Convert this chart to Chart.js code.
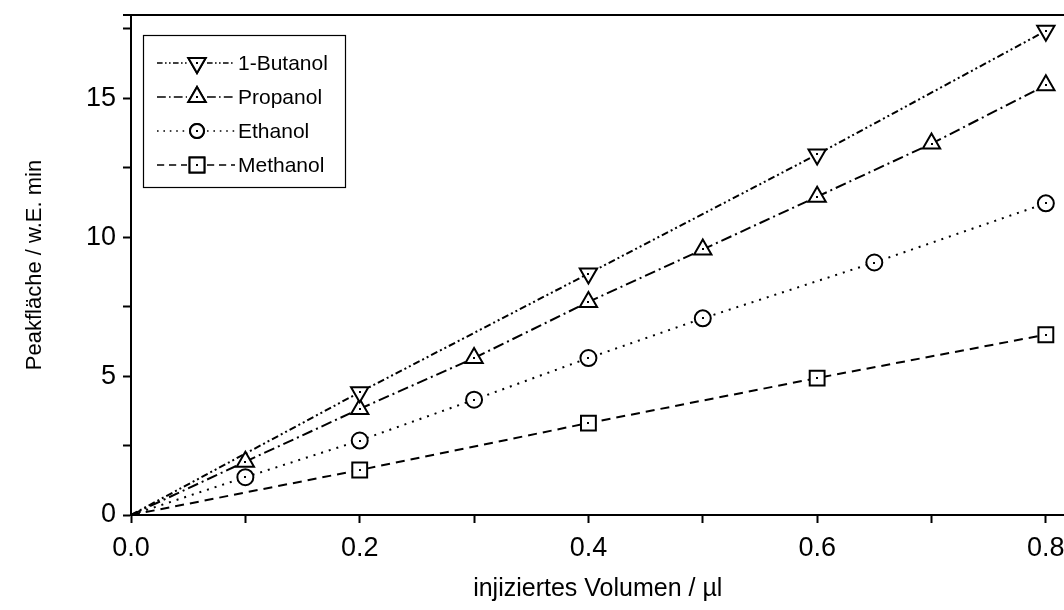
<!DOCTYPE html>
<html>
<head>
<meta charset="utf-8">
<script src="https://cdn.jsdelivr.net/npm/chart.js@4/dist/chart.umd.min.js"></script>
<style>
  html, body { margin: 0; padding: 0; background: #fff; overflow: hidden; }
  /* the plot runs off the right edge, as in the original figure */
  #wrap { width: 1077px; height: 610px; }
</style>
</head>
<body>
<div id="wrap"><canvas id="peakChart" width="1077" height="610"></canvas></div>
<script>
// values
const seriesNames = ['1-Butanol', 'Propanol', 'Ethanol', 'Methanol'];

const xButanol = [0, 0.2, 0.4, 0.6, 0.8];
const yButanol = [0, 4.42, 8.69, 12.98, 17.43];

const xPropanol = [0, 0.1, 0.2, 0.3, 0.4, 0.5, 0.6, 0.7, 0.8];
const yPropanol = [0, 1.92, 3.82, 5.65, 7.67, 9.56, 11.46, 13.37, 15.47];

const xEthanol = [0, 0.1, 0.2, 0.3, 0.4, 0.5, 0.65, 0.8];
const yEthanol = [0, 1.36, 2.68, 4.15, 5.65, 7.08, 9.09, 11.22];

const xMethanol = [0, 0.2, 0.4, 0.6, 0.8];
const yMethanol = [0, 1.62, 3.31, 4.93, 6.49];

const xTickLabels = ['0.0', '0.2', '0.4', '0.6', '0.8'];
const yTickLabels = ['0', '5', '10', '15'];

const FONT = '"Liberation Sans", Arial, sans-serif';

function pts(xs, ys) {
    return xs.map((x, i) => ({ x: x, y: ys[i] }));
}
// no marker at the origin
function radii(xs, r) {
    return xs.map(x => x === 0 ? 0 : r);
}

function makeSet(name, xs, ys, style, rotation, radius, dash, legendRadius) {
    return {
        label: name,
        data: pts(xs, ys),
        borderColor: '#000',
        backgroundColor: '#fff',
        borderWidth: 2,
        borderDash: dash,
        pointStyle: style,
        rotation: rotation,
        pointRadius: radii(xs, radius),
        pointBorderColor: '#000',
        pointBackgroundColor: '#fff',
        pointBorderWidth: 2,
        pointHoverRadius: 0,
        legendRadius: legendRadius,
        fill: false,
        tension: 0
    };
}

const datasets = [
    makeSet(seriesNames[0], xButanol, yButanol, 'triangle', 180, 10, [7, 3, 2, 3, 2, 3], 10),
    makeSet(seriesNames[1], xPropanol, yPropanol, 'triangle', 0, 10, [11, 4, 2, 4], 10),
    makeSet(seriesNames[2], xEthanol, yEthanol, 'circle', 0, 8, [2, 6], 7),
    makeSet(seriesNames[3], xMethanol, yMethanol, 'rect', 0, 10.5, [9, 6], 10.5)
];

// small dot in the middle of every marker
const centerDots = {
    id: 'centerDots',
    afterDatasetsDraw(chart) {
        const ctx = chart.ctx;
        ctx.save();
        ctx.fillStyle = '#000';
        chart.data.datasets.forEach((ds, i) => {
            chart.getDatasetMeta(i).data.forEach((p, j) => {
                if (ds.data[j].x === 0) return;
                ctx.fillRect(Math.round(p.x) - 1, Math.round(p.y) - 1, 2, 2);
            });
        });
        ctx.restore();
    }
};

// top frame line + hand drawn legend box
const frameAndLegend = {
    id: 'frameAndLegend',
    afterDraw(chart) {
        const ctx = chart.ctx;
        const a = chart.chartArea;
        ctx.save();
        ctx.strokeStyle = '#000';
        ctx.lineWidth = 2;
        ctx.beginPath();
        ctx.moveTo(a.left - 8, a.top);
        ctx.lineTo(a.right, a.top);
        ctx.stroke();

        // legend
        const bx = 143, by = 35, bw = 202, bh = 152;
        ctx.fillStyle = '#fff';
        ctx.fillRect(bx, by, bw, bh);
        ctx.lineWidth = 1.2;
        ctx.strokeRect(bx + 0.5, by + 0.5, bw, bh);

        ctx.font = '21px ' + FONT;
        ctx.textBaseline = 'middle';
        ctx.textAlign = 'left';
        chart.data.datasets.forEach((ds, i) => {
            const cy = by + 28 + i * 34;
            ctx.strokeStyle = '#000';
            ctx.lineWidth = 1.6;
            ctx.setLineDash(ds.borderDash.map(d => d * 0.8));
            ctx.beginPath();
            ctx.moveTo(157, cy);
            ctx.lineTo(187, cy);
            ctx.moveTo(207, cy);
            ctx.lineTo(235, cy);
            ctx.stroke();
            ctx.setLineDash([]);
            ctx.lineWidth = 2;
            Chart.helpers.drawPoint(ctx, {
                pointStyle: ds.pointStyle,
                rotation: ds.rotation,
                radius: ds.legendRadius,
                borderWidth: 2
            }, 197, cy);
            ctx.fillStyle = '#fff';
            ctx.fill();
            ctx.stroke();
            ctx.fillStyle = '#000';
            ctx.fillRect(196, cy - 1, 2, 2);
            ctx.fillText(ds.label, 238, cy + 1);
        });
        ctx.restore();
    }
};

const whiteBg = {
    id: 'whiteBg',
    beforeDraw(chart) {
        const ctx = chart.ctx;
        ctx.save();
        ctx.fillStyle = '#fff';
        ctx.fillRect(0, 0, chart.width, chart.height);
        ctx.restore();
    }
};

new Chart(document.getElementById('peakChart').getContext('2d'), {
    type: 'line',
    data: { datasets: datasets },
    options: {
        responsive: false,
        animation: false,
        events: [],
        layout: { padding: { top: 15, right: 0, left: 0, bottom: 0 } },
        plugins: {
            legend: { display: false },
            tooltip: { enabled: false }
        },
        scales: {
            x: {
                type: 'linear',
                min: 0,
                max: 0.8163,
                afterFit: s => { s.height = 95; },
                ticks: {
                    stepSize: 0.1,
                    includeBounds: false,
                    autoSkip: false,
                    maxRotation: 0,
                    color: '#000',
                    font: { family: FONT, size: 27 },
                    padding: 9,
                    callback: v => {
                        const k = Math.round(v * 10);
                        return k % 2 === 0 ? xTickLabels[k / 2] : '';
                    }
                },
                grid: {
                    drawOnChartArea: false,
                    drawTicks: true,
                    tickLength: 8,
                    tickWidth: 2,
                    tickColor: '#000'
                },
                border: { display: true, color: '#000', width: 2 },
                title: {
                    display: true,
                    text: 'injiziertes Volumen / µl',
                    color: '#000',
                    font: { family: FONT, size: 25 },
                    padding: { top: 0, bottom: 6 }
                }
            },
            y: {
                type: 'linear',
                min: 0,
                max: 18,
                afterFit: s => { s.width = 131; s.paddingTop = 0; s.paddingBottom = 0; },
                ticks: {
                    stepSize: 2.5,
                    includeBounds: false,
                    autoSkip: false,
                    color: '#000',
                    font: { family: FONT, size: 27 },
                    padding: 7,
                    callback: v => {
                        const k = Math.round(v / 2.5);
                        return k % 2 === 0 ? yTickLabels[k / 2] : '';
                    }
                },
                grid: {
                    drawOnChartArea: false,
                    drawTicks: true,
                    tickLength: 8,
                    tickWidth: 2,
                    tickColor: '#000'
                },
                border: { display: true, color: '#000', width: 2 },
                title: {
                    display: true,
                    text: 'Peakfläche / w.E. min',
                    color: '#000',
                    font: { family: FONT, size: 22 },
                    padding: { top: 22, bottom: 0 }
                }
            }
        }
    },
    plugins: [whiteBg, centerDots, frameAndLegend]
});
</script>
</body>
</html>
